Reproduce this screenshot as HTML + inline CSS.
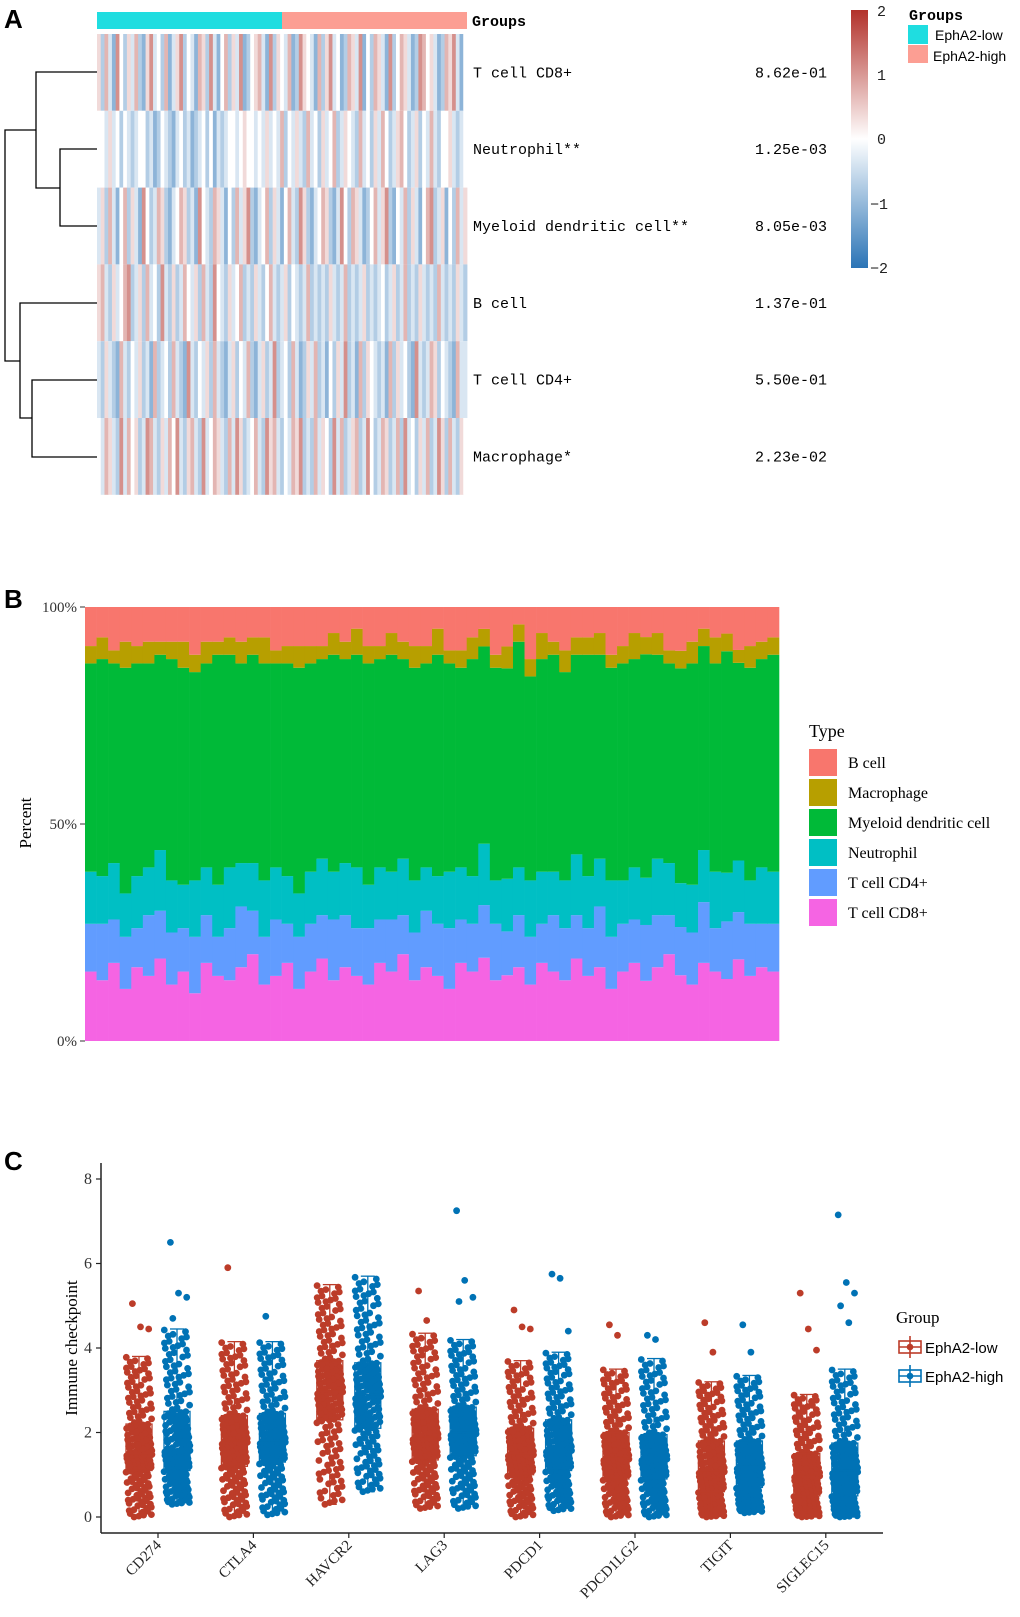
<!DOCTYPE html>
<html><head><meta charset="utf-8">
<style>
html,body{margin:0;padding:0;background:#fff;}
svg{display:block;}
.mono{font-family:"Liberation Mono",monospace;}
.serif{font-family:"Liberation Serif",serif;}
.sans{font-family:"Liberation Sans",sans-serif;}
</style></head>
<body>
<svg id="fig" width="1020" height="1617" viewBox="0 0 1020 1617" xmlns="http://www.w3.org/2000/svg">
<defs>
<linearGradient id="cbar" x1="0" y1="0" x2="0" y2="1">
<stop offset="0" stop-color="#B2312A"/><stop offset="0.5" stop-color="#FFFFFF"/><stop offset="1" stop-color="#2B74B6"/>
</linearGradient>
</defs>
<!-- Panel A -->
<g id="panelA">
<text x="4" y="28" class="sans" font-size="26" font-weight="bold">A</text>
<rect x="97" y="12" width="185" height="17" fill="#1FDDE0"/>
<rect x="282" y="12" width="185" height="17" fill="#FC9E93"/>
<text x="472" y="26" class="mono" font-size="15" font-weight="bold">Groups</text>
<g id="hm"></g>
<g id="hmLabels"></g>
<g id="dendro" stroke="#000" stroke-width="1.3" fill="none">
<path d="M97 72H36V188H60M97 149H60V226H97M60 188M36 130H5V361H20M97 303H20V418H32M97 380H32V457H97"/>
</g>
<rect x="851" y="10" width="17" height="258" fill="url(#cbar)"/>
<g class="mono" font-size="15" fill="#222">
<text x="877" y="16">2</text><text x="877" y="80">1</text><text x="877" y="144">0</text><text x="870" y="209">−1</text><text x="870" y="273">−2</text>
</g>
<text x="909" y="20" class="mono" font-size="15" font-weight="bold">Groups</text>
<rect x="908" y="25" width="20" height="19" fill="#1FDDE0"/>
<rect x="908" y="45" width="20" height="18" fill="#FC9E93"/>
<text x="935" y="40" class="sans" font-size="14">EphA2-low</text>
<text x="933" y="61" class="sans" font-size="14">EphA2-high</text>
</g>
<!-- Panel B -->
<g id="panelB">
<text x="4" y="608" class="sans" font-size="26" font-weight="bold">B</text>
<g id="bars"></g>
<g id="bAxis"></g>
<text transform="translate(31,823) rotate(-90)" text-anchor="middle" class="serif" font-size="17">Percent</text>
<text x="809" y="737" class="serif" font-size="18">Type</text>
<g id="bLegend"></g>
</g>
<!-- Panel C -->
<g id="panelC">
<text x="4" y="1170" class="sans" font-size="26" font-weight="bold">C</text>
<g id="cPlot"></g>
<text transform="translate(77,1348) rotate(-90)" text-anchor="middle" class="serif" font-size="17">Immune checkpoint</text>
<text x="896" y="1323" class="serif" font-size="17">Group</text>
<g stroke="#BC3C29" stroke-width="1.6" fill="none">
<rect x="899" y="1341" width="22" height="12"/><line x1="910" y1="1336" x2="910" y2="1358"/><line x1="899" y1="1347" x2="921" y2="1347"/><circle cx="910" cy="1347" r="2.5" fill="#BC3C29"/>
</g>
<text x="925" y="1353" class="sans" font-size="15">EphA2-low</text>
<g stroke="#0072B5" stroke-width="1.6" fill="none">
<rect x="899" y="1370" width="22" height="12"/><line x1="910" y1="1365" x2="910" y2="1387"/><line x1="899" y1="1376" x2="921" y2="1376"/><circle cx="910" cy="1376" r="2.5" fill="#0072B5"/>
</g>
<text x="925" y="1382" class="sans" font-size="15">EphA2-high</text>
</g>
</svg>
<script>
// ---------- Panel A data ----------
const hmRowNames = ["T cell CD8+","Neutrophil**","Myeloid dendritic cell**","B cell","T cell CD4+","Macrophage*"];
const hmPvalues = ["8.62e-01","1.25e-03","8.05e-03","1.37e-01","5.50e-01","2.23e-02"];
// each char: a=-2 ... e=0 ... i=2
const hmRows = [
"fcgdbhecfdgcbfhdecgbdfhcedbgfchdbegcfdhbcefgdbhcfedgbchfedbgcfhdebcgfdhbecgfdbhcegfdbchgefdbcgfhdbe",
"eedfdecedcdeecdbcedcbdecdbcdecebdcdeedefeededfdedgcedfdcgdecfdegcdfedcgdecfdgecdfgecdfcedgdceefdcde",
"dfcgdbegcfdbhecdgfcbdegfcdbhedcgfdbecgdfhcbdegcfdbegdchfcbdegfcbdhecgfdbcegdfhcbedgcfdbeghcdfbecgdf",
"fgdcfdeghcdfcgdechdcfcdgedfcgdchedcfdegcdcfdcegdcdfcedcdgcdcdcfdcdgcdcdfcdcdecdfcdgcdcfdcdcgdcdcfdc",
"dcfdcbgdcedfcdbgcdecgdcbhdcedfcgdcbdfcedgcbdfcdhcdecgdbcfdgcdbecfdhcdbgcfedcdbgcfdecbhdcdgfcedcbgdd",
"edgfdchdgefcdhgdcfdgehdcfgdchdegfdcgdhfcdegdchfgdcedgfhcdcgdfechdgcdfgcdhecdgfcdgchdecfdgcdhfcgdcfe"
];
// ---------- Panel B data ----------
const bTypes = ["T cell CD8+","T cell CD4+","Neutrophil","Myeloid dendritic cell","Macrophage","B cell"];
const bColors = ["#F564E3","#619CFF","#00BFC4","#00BA38","#B79F00","#F8766D"];
const cd8 = [16,14,18,12,17,15,19,13,16,11,18,15,14,17,20,13,15,18,12,16,19,14,17,15,13,18,16,20,14,17,15,12,18,16,19,14,15,17,13,18,16,14,19,15,17,12,16,18,14,17,20,15,13,18,16,14,19,15,17,16];
const cd4 = [11,13,10,12,9,14,11,12,10,13,11,9,12,14,10,11,13,9,12,11,10,14,12,11,13,10,12,9,11,13,12,14,10,11,12,13,10,12,11,9,13,12,10,11,14,12,11,10,13,12,9,11,12,14,10,13,11,12,10,11];
const neu = [12,11,13,10,12,11,14,12,10,13,11,12,14,10,11,13,12,11,10,12,13,11,12,14,10,12,11,13,12,10,11,13,12,11,14,10,12,11,13,12,10,11,14,12,11,13,10,12,11,13,12,10,11,12,13,11,12,10,13,12];
const mye = [48,50,46,52,49,47,45,51,50,48,47,53,49,46,48,50,47,49,52,48,46,50,47,49,51,48,50,46,49,47,51,48,46,50,45,49,48,52,47,49,50,48,46,51,47,49,50,48,52,47,46,49,51,47,48,50,46,49,48,50];
const mac = [4,5,3,6,4,5,3,4,6,4,5,3,4,5,4,6,3,4,5,4,3,5,4,6,4,3,5,4,5,4,6,3,4,5,4,3,5,4,4,6,3,5,4,4,5,3,4,6,4,5,3,4,5,4,6,4,3,5,4,4];
const bcell = [9,7,10,8,9,8,8,8,8,11,8,8,7,8,7,7,10,9,9,9,9,6,8,5,9,9,6,8,9,9,5,10,10,7,5,11,9,4,12,6,8,10,7,7,6,11,9,6,7,6,10,10,8,5,7,6,10,9,8,7];
const bTickLabels = ["0%","50%","100%"];
const bTickValues = [0,0.5,1];
// ---------- Panel C data ----------
const cGenes = ["CD274","CTLA4","HAVCR2","LAG3","PDCD1","PDCD1LG2","TIGIT","SIGLEC15"];
// [whiskerLow, q1, median, q3, whiskerHigh]
const lowStats = [[0,1.1,1.5,2.2,3.8],[0,1.2,1.8,2.4,4.15],[0.3,2.3,3.0,3.7,5.5],[0.2,1.35,1.9,2.55,4.35],[0,1.0,1.5,2.1,3.7],[0,0.9,1.4,2.0,3.5],[0,0.6,1.1,1.8,3.2],[0,0.5,1.0,1.5,2.9]];
const highStats = [[0.3,1.1,1.6,2.5,4.45],[0.05,1.3,1.8,2.45,4.15],[0.6,2.1,2.9,3.65,5.7],[0.2,1.45,2.0,2.6,4.2],[0.15,1.1,1.6,2.3,3.9],[0,0.9,1.4,1.95,3.75],[0.1,0.7,1.2,1.8,3.35],[0,0.5,1.1,1.75,3.5]];
const lowOutliers = [[5.05,4.5,4.45],[5.9],[],[5.35,4.65],[4.9,4.5,4.45],[4.55,4.3],[4.6,3.9],[5.3,4.45,3.95]];
const highOutliers = [[6.5,5.3,5.2,4.7],[4.75],[],[7.25,5.6,5.2,5.1],[5.75,5.65,4.4],[4.3,4.2],[4.55,3.9],[7.15,5.55,5.3,5.0,4.6]];
const cTicks = [0,2,4,6,8];

const NS="http://www.w3.org/2000/svg";
function mk(tag, attrs, parent){const e=document.createElementNS(NS,tag);for(const k in attrs)e.setAttribute(k,attrs[k]);parent.appendChild(e);return e;}

// ---------- Panel A render ----------
(function(){
  const g=document.getElementById('hm');
  const x0=97,x1=467,y0=34,rowH=76.8;
  function col(v){ // v in [-2,2]
    const t=Math.max(-1,Math.min(1,v/2));
    let c0=[255,255,255], c1 = t>=0?[178,49,42]:[43,116,182];
    const a=Math.abs(t)*0.72;
    const r=c0.map((c,i)=>Math.round(c+(c1[i]-c)*a));
    return "rgb("+r.join(",")+")";
  }
  hmRows.forEach((s,ri)=>{
    const n=s.length, w=(x1-x0)/n;
    for(let j=0;j<n;j++){
      const v=(s.charCodeAt(j)-101)/2;
      const r=mk('rect',{x:(x0+j*w).toFixed(2),y:(y0+ri*rowH).toFixed(2),width:(w+0.4).toFixed(2),height:rowH.toFixed(2),fill:col(v)},g);
      
      
    }
  });
  const L=document.getElementById('hmLabels');
  hmRowNames.forEach((nm,i)=>{
    const cy=y0+rowH*(i+0.5)+5;
    const t=mk('text',{x:473,y:cy,'class':'mono','font-size':15},L);t.textContent=nm;
    
    
    const p=mk('text',{x:755,y:cy,'class':'mono','font-size':15},L);p.textContent=hmPvalues[i];
    
    
  });
})();

// ---------- Panel B render ----------
(function(){
  const g=document.getElementById('bars');
  const px0=85,px1=779,py0=607,py1=1041;
  const series=[cd8,cd4,neu,mye,mac,bcell];
  const n=cd8.length, w=(px1-px0)/n;
  const yS=v=>py1-v*(py1-py0);
  for(let i=0;i<n;i++){
    let tot=0;series.forEach(s=>tot+=s[i]);
    let acc=0;
    series.forEach((s,k)=>{
      const a=acc/tot,b=(acc+s[i])/tot;acc+=s[i];
      const r=mk('rect',{x:(px0+i*w).toFixed(2),y:yS(b).toFixed(2),width:(w+0.3).toFixed(2),height:(yS(a)-yS(b)).toFixed(2),fill:bColors[k]},g);
      
      
    });
  }
  const ax=document.getElementById('bAxis');
  bTickValues.forEach((v,i)=>{
    mk('line',{x1:80,x2:85,y1:yS(v),y2:yS(v),stroke:'#333','stroke-width':1},ax);
    const t=mk('text',{x:77,y:yS(v)+5,'text-anchor':'end','class':'serif','font-size':15,fill:'#333'},ax);t.textContent=bTickLabels[i];
    
    
  });
  const lg=document.getElementById('bLegend');
  const order=[5,4,3,2,1,0];
  order.forEach((k,i)=>{
    const y=749+i*30;
    const r=mk('rect',{x:809,y:y,width:28,height:27,fill:bColors[k]},lg);
    
    
    const t=mk('text',{x:848,y:y+19,'class':'serif','font-size':16},lg);t.textContent=bTypes[k];
    
    
  });
})();

// ---------- Panel C render ----------
(function(){
  const g=document.getElementById('cPlot');
  const yS=v=>1517-v*42.25;
  const xC=i=>158+i*95.4;
  mk('line',{x1:101,x2:101,y1:1163,y2:1533,stroke:'#222','stroke-width':1.5},g);
  mk('line',{x1:101,x2:883,y1:1533,y2:1533,stroke:'#222','stroke-width':1.5},g);
  cTicks.forEach(v=>{
    mk('line',{x1:96,x2:101,y1:yS(v),y2:yS(v),stroke:'#222','stroke-width':1.2},g);
    const t=mk('text',{x:92,y:yS(v)+5,'text-anchor':'end','class':'serif','font-size':16,fill:'#333'},g);t.textContent=v;
    
    
  });
  function quant(st,p){
    const ps=[0,0.25,0.5,0.75,1];
    for(let k=0;k<4;k++){if(p<=ps[k+1]){const f=(p-ps[k])/0.25;return st[k]+(st[k+1]-st[k])*f;}}
    return st[4];
  }
  function drawGroup(cx,st,outs,color){
    const n=190;
    for(let i=0;i<n;i++){
      const p=((i*0.6180339887)%1);
      const v=quant(st,p);
      const jx=(((i*0.7548776662+0.31)%1)-0.5)*26;
      const c=mk('circle',{cx:(cx+jx).toFixed(1),cy:yS(v).toFixed(1),r:3.4,fill:color},g);
      
      
    }
    outs.forEach((v,i)=>{
      const jx=(((i*0.37+0.2)%1)-0.5)*22;
      const c=mk('circle',{cx:(cx+jx).toFixed(1),cy:yS(v).toFixed(1),r:3.4,fill:color},g);
      
      
    });
    const bx=mk('rect',{x:cx-13,y:yS(st[3]),width:26,height:yS(st[1])-yS(st[3]),fill:'none',stroke:color,'stroke-width':1.3},g);
    
    
    mk('line',{x1:cx,x2:cx,y1:yS(st[3]),y2:yS(st[4]),stroke:color,'stroke-width':1.3},g);
    mk('line',{x1:cx,x2:cx,y1:yS(st[1]),y2:yS(st[0]),stroke:color,'stroke-width':1.3},g);
    mk('line',{x1:cx-7,x2:cx+7,y1:yS(st[4]),y2:yS(st[4]),stroke:color,'stroke-width':1.3},g);
    mk('line',{x1:cx-7,x2:cx+7,y1:yS(st[0]),y2:yS(st[0]),stroke:color,'stroke-width':1.3},g);
    mk('line',{x1:cx-13,x2:cx+13,y1:yS(st[2]),y2:yS(st[2]),stroke:color,'stroke-width':1.3},g);
  }
  cGenes.forEach((gn,i)=>{
    const cx=xC(i);
    drawGroup(cx-19,lowStats[i],lowOutliers[i],'#BC3C29');
    drawGroup(cx+19,highStats[i],highOutliers[i],'#0072B5');
    mk('line',{x1:cx,x2:cx,y1:1533,y2:1538,stroke:'#222','stroke-width':1.2},g);
    const t=mk('text',{x:cx+4,y:1546,'text-anchor':'end','class':'serif','font-size':15,fill:'#222',transform:'rotate(-45 '+(cx+4)+' 1546)'},g);
    t.textContent=gn;
    
    
  });
})();
</script>
</body></html>
